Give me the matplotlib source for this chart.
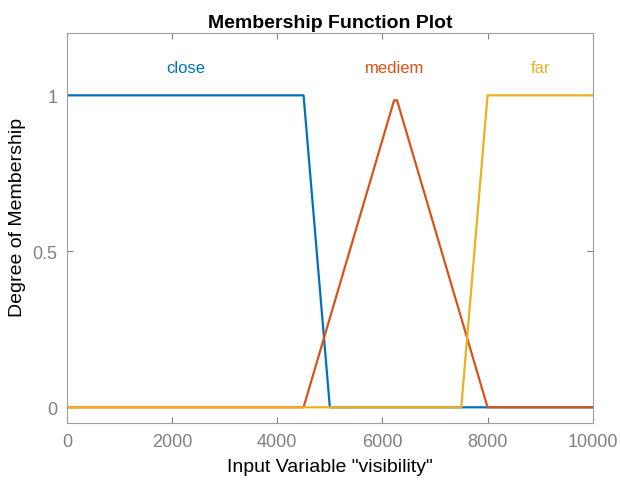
import matplotlib
matplotlib.use("Agg")
import matplotlib.pyplot as plt

plt.rcParams["font.family"] = ["Liberation Sans", "DejaVu Sans"]

# membership functions of "visibility", as breakpoints (x, degree)
close_x = [0, 4500, 5000, 10000]
close_y = [1, 1, 0, 0]
mediem_x = [0, 4500, 6222, 6278, 8000, 10000]
mediem_y = [0, 0, 0.984, 0.984, 0, 0]
far_x = [0, 7500, 8000, 10000]
far_y = [0, 0, 1, 1]

mf_names = ["close", "mediem", "far"]
label_x = [2250, 6240, 9000]
label_y = 1.09

colors = ["#0072BD", "#D95319", "#EDB120"]
GRAY = "#808080"

fig = plt.figure(figsize=(6.2, 4.85), dpi=100)
ax = fig.add_axes([0.108, 0.126, 0.848, 0.804])

for (xs, ys), c in zip([(close_x, close_y), (mediem_x, mediem_y), (far_x, far_y)], colors):
    ax.plot(xs, ys, color=c, linewidth=1.6)

for name, lx, c in zip(mf_names, label_x, colors):
    ax.text(lx, label_y, name, color=c, ha="center", va="center", fontsize=12)

ax.set_xlim(0, 10000)
ax.set_ylim(-0.05, 1.2)
ax.set_xticks([0, 2000, 4000, 6000, 8000, 10000])
ax.set_yticks([0, 0.5, 1])
ax.set_yticklabels(["0", "0.5", "1"])
ax.tick_params(direction="in", top=True, right=True, colors=GRAY,
               labelsize=13, length=4, pad=7)
for s in ax.spines.values():
    s.set_color("#a0a0a0")
    s.set_linewidth(0.8)

ax.set_title("Membership Function Plot", fontsize=14, fontweight="bold", pad=4)
ax.set_xlabel('Input Variable "visibility"', fontsize=14, labelpad=6)
ax.set_ylabel("Degree of Membership", fontsize=14)
ax.yaxis.set_label_coords(-0.078, 0.53)

fig.savefig("out.png", dpi=100)
